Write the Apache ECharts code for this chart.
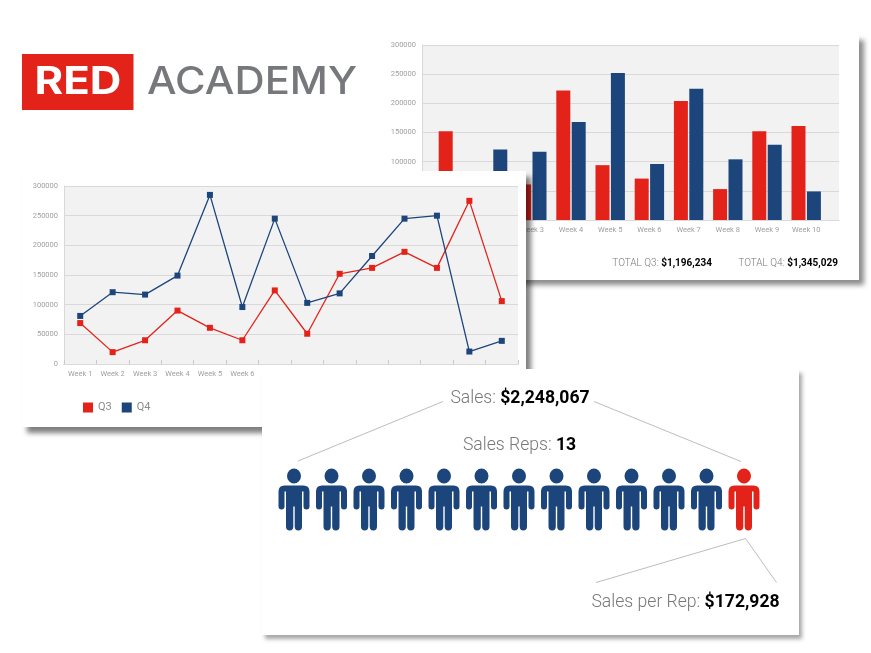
<!DOCTYPE html>
<html><head><meta charset="utf-8">
<style>html,body{margin:0;padding:0;background:#fff}#c{width:871px;height:653px}</style>
<script src="https://cdn.jsdelivr.net/npm/echarts@6/dist/echarts.min.js"></script>
</head><body><div id="c"></div>
<script>
const barWeeks = ['Week 1','Week 2','Week 3','Week 4','Week 5','Week 6','Week 7','Week 8','Week 9','Week 10'];
const barQ3 = [152000,20000,61000,222000,94000,71000,204000,53000,152000,161000];
const barQ4 = [81000,121000,117000,168000,252000,96000,225000,104000,129000,49000];
const lineWeeks = ['Week 1','Week 2','Week 3','Week 4','Week 5','Week 6','Week 7','Week 8','Week 9','Week 10','Week 11','Week 12','Week 13','Week 14'];
const lineQ3 = [69000,20000,40000,90000,61000,40000,124000,51000,152000,162000,189000,162000,275000,106000];
const lineQ4 = [81000,121000,117000,149000,285000,96000,245000,103000,119000,182000,245000,250000,21000,39000];
const reps = ['Rep 1','Rep 2','Rep 3','Rep 4','Rep 5','Rep 6','Rep 7','Rep 8','Rep 9','Rep 10','Rep 11','Rep 12','Rep 13'];
const repRow = [1,1,1,1,1,1,1,1,1,1,1,1,1];
const highlightedRep = 'Rep 13';

const RED='#e3231a', BLUE='#1c457b', LABEL='#a0a0a0', GRIDLINE='#d9d9d9', BG='#f2f2f2', TXT='#787878';
const FONT='Roboto';
const PERSON='path://M15.5 0A7 7.5 0 1 1 15.5 15A7 7.5 0 1 1 15.5 0ZM6 17H25Q31 17 31 23V38Q31 41 28 41Q25 41 25 38V23H23.5V58Q23.5 62 19.8 62Q16.2 62 16.2 58V38H14.8V58Q14.8 62 11.2 62Q7.5 62 7.5 58V23H6V38Q6 41 3 41Q0 41 0 38V23Q0 17 6 17Z';

const panel=(x,y,w,h,z,blur,ox,oy,col)=>({type:'rect',z,silent:true,shape:{x,y,width:w,height:h},
  style:{fill:'#fff',shadowBlur:blur,shadowOffsetX:ox,shadowOffsetY:oy,shadowColor:col}});
const leader=(pts,z)=>({type:'polyline',z,silent:true,shape:{points:pts},style:{fill:'none',stroke:'#bdbdbd',lineWidth:1}});
const labelText=(x,y,align,z,size,a,b)=>({type:'text',z,silent:true,x,y,style:{
  text:'{a|'+a+'}{b|'+b+'}',align,verticalAlign:'middle',
  rich:{a:{fontFamily:FONT,fontSize:size,fill:TXT,fontWeight:300},b:{fontFamily:FONT,fontSize:size,fill:'#000',fontWeight:700}}}});

const yBase=(grid,z)=>({type:'value',gridIndex:grid,min:0,max:300000,interval:50000,z,
  axisLine:{show:true,lineStyle:{color:GRIDLINE}},axisTick:{show:false},
  axisLabel:{color:LABEL,fontSize:7.5,fontFamily:FONT,margin:6,formatter:v=>String(v)},
  splitLine:{show:true,lineStyle:{color:GRIDLINE,width:1}}});

const option={
  animation:false,backgroundColor:'#fff',
  legend:{show:true,z:5,left:83,top:402,itemWidth:10,itemHeight:10,itemGap:10,icon:'rect',padding:0,
    data:['Q3','Q4'],textStyle:{color:'#8a8a8a',fontSize:11,fontFamily:FONT}},
  grid:[
    {left:422,top:45,width:417,height:175,show:true,backgroundColor:BG,borderWidth:0,z:1},
    {left:433.8,top:45,width:392,height:175,z:1},
    {left:64,top:186,width:454,height:178,show:true,backgroundColor:BG,borderWidth:0,z:4},
    {left:275.25,top:469,width:487.5,height:61,z:7}
  ],
  xAxis:[
    {type:'category',gridIndex:0,data:barWeeks,z:1,axisLabel:{show:false},axisTick:{show:false},axisLine:{lineStyle:{color:GRIDLINE}}},
    {type:'category',gridIndex:1,data:barWeeks,z:1,axisTick:{show:false},axisLine:{show:false},
      axisLabel:{color:LABEL,fontSize:7.5,fontFamily:FONT,margin:6,interval:0}},
    {type:'category',gridIndex:2,data:lineWeeks,z:4,axisLine:{lineStyle:{color:GRIDLINE}},
      axisTick:{show:true,inside:true,length:4,lineStyle:{color:'#c9c9c9'}},
      axisLabel:{color:LABEL,fontSize:7.5,fontFamily:FONT,margin:6,interval:0}},
    {type:'category',gridIndex:3,data:reps,show:false}
  ],
  yAxis:[
    yBase(0,1),
    {type:'value',gridIndex:1,min:0,max:300000,show:false,splitLine:{show:false}},
    yBase(2,4),
    {type:'value',gridIndex:3,min:0,max:2,show:false,splitLine:{show:false}}
  ],
  series:[
    {name:'Q3',type:'bar',xAxisIndex:1,yAxisIndex:1,z:2,data:barQ3,barWidth:14,barGap:'10%',itemStyle:{color:RED}},
    {name:'Q4',type:'bar',xAxisIndex:1,yAxisIndex:1,z:2,data:barQ4,barWidth:14,barGap:'10%',itemStyle:{color:BLUE}},
    {name:'Q3',type:'line',xAxisIndex:2,yAxisIndex:2,z:5,data:lineQ3,symbol:'rect',symbolSize:6,showSymbol:true,
      itemStyle:{color:RED},lineStyle:{color:RED,width:1.3}},
    {name:'Q4',type:'line',xAxisIndex:2,yAxisIndex:2,z:5,data:lineQ4,symbol:'rect',symbolSize:6,showSymbol:true,
      itemStyle:{color:BLUE},lineStyle:{color:BLUE,width:1.3}},
    {name:'Sales Reps',type:'scatter',xAxisIndex:3,yAxisIndex:3,z:7,symbol:PERSON,symbolSize:[31,62],
      data:reps.map((r,i)=>({value:[r,repRow[i]],itemStyle:{color:r===highlightedRep?RED:BLUE,opacity:1}}))}
  ],
  graphic:[
    panel(381,35,478,245,-1,5,5,5,'rgba(0,0,0,0.45)'),
    labelText(712,263,'right',2,10,'TOTAL Q3: ','$1,196,234'),
    labelText(838,263,'right',2,10,'TOTAL Q4: ','$1,345,029'),
    panel(22,171,504,256,3,5,5,6,'rgba(0,0,0,0.5)'),
    panel(262,369,537,266,6,4,3,4,'rgba(0,0,0,0.35)'),
    leader([[443,401.5],[298,461]],8),
    leader([[594,401.5],[741,461.5]],8),
    leader([[596,582.5],[745.5,538.5],[776.5,582.5]],8),
    labelText(520,398.5,'center',8,17.6,'Sales: ','$2,248,067'),
    labelText(519.5,445.5,'center',8,17.6,'Sales Reps: ','13'),
    labelText(685.5,602.5,'center',8,17.6,'Sales per Rep: ','$172,928'),
    {type:'rect',z:8,silent:true,shape:{x:22,y:54,width:111.5,height:56},style:{fill:RED}},
    {type:'text',z:9,silent:true,x:78,y:83,scaleX:1.15,style:{text:'RED',align:'center',verticalAlign:'middle',fill:'#fff',font:'700 38px Inter'}},
    {type:'text',z:9,silent:true,x:147,y:83,scaleX:1.1,style:{text:'ACADEMY',align:'left',verticalAlign:'middle',fill:'#77787b',font:'500 38px Inter'}}
  ]
};
const chart=echarts.init(document.getElementById('c'),null,{renderer:'canvas'});
chart.setOption(option);
</script></body></html>
